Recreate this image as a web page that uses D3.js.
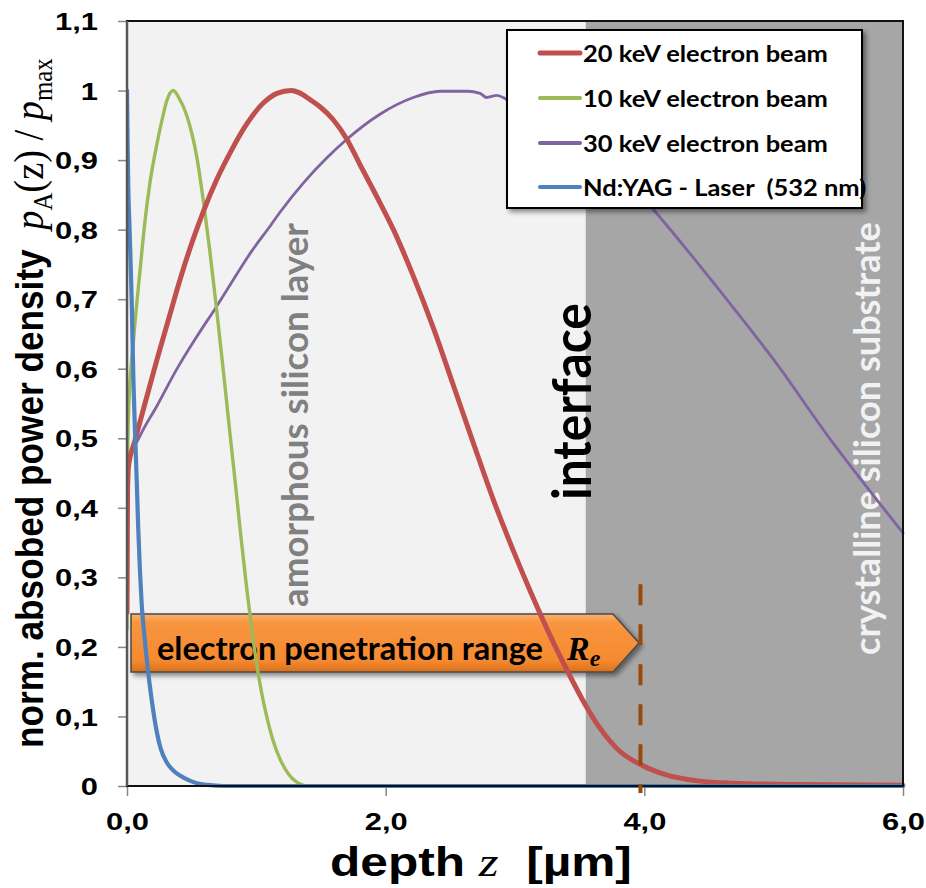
<!DOCTYPE html>
<html><head><meta charset="utf-8">
<script src="https://cdn.jsdelivr.net/npm/d3@7"></script>
<style>body{margin:0;background:#fff} svg{display:block} text{white-space:pre}</style>
</head><body>
<svg id="chart" width="926" height="888"></svg>
<script>
// ---------- data (depth in µm, normalised absorbed power density) ----------
const beam20keV = [[0,0.25],[0.004,0.42],[0.012,0.46],[0.062,0.497],[0.139,0.55],[0.23,0.612],[0.332,0.678],[0.397,0.72],[0.45,0.752],[0.513,0.787],[0.59,0.826],[0.694,0.872],[0.796,0.91],[0.926,0.952],[1.054,0.982],[1.16,0.996],[1.27,1.0],[1.33,0.997],[1.415,0.987],[1.49,0.977],[1.595,0.958],[1.70,0.93],[1.80,0.894],[1.93,0.848],[2.06,0.8],[2.21,0.735],[2.37,0.658],[2.52,0.578],[2.68,0.492],[2.83,0.413],[2.99,0.337],[3.13,0.275],[3.3,0.205],[3.42,0.16],[3.54,0.118],[3.65,0.085],[3.81,0.05],[3.97,0.031],[4.17,0.016],[4.43,0.007],[4.69,0.004],[5.2,0.002],[6,0.001]];
const beam10keV = [[0,0.225],[0.003,0.45],[0.012,0.537],[0.05,0.64],[0.1,0.74],[0.139,0.812],[0.178,0.868],[0.23,0.922],[0.27,0.957],[0.307,0.985],[0.358,1.0],[0.40,0.99],[0.462,0.964],[0.539,0.905],[0.59,0.842],[0.64,0.77],[0.69,0.69],[0.745,0.597],[0.796,0.507],[0.835,0.44],[0.88,0.36],[0.925,0.285],[0.965,0.225],[1.003,0.175],[1.04,0.135],[1.08,0.1],[1.13,0.065],[1.18,0.04],[1.25,0.017],[1.31,0.006],[1.41,0],[6,0]];
const beam30keV = [[0,0.26],[0.004,0.42],[0.01,0.462],[0.1,0.503],[0.23,0.546],[0.384,0.599],[0.539,0.646],[0.694,0.69],[0.822,0.728],[0.96,0.768],[1.11,0.806],[1.183,0.825],[1.363,0.867],[1.544,0.903],[1.70,0.93],[1.956,0.966],[2.214,0.99],[2.42,0.999],[2.63,0.999],[2.73,0.996],[2.78,0.99],[2.86,0.993],[2.94,0.987],[3.2,0.972],[3.5,0.935],[3.8,0.886],[4.07,0.829],[4.64,0.699],[5.0,0.613],[5.44,0.498],[6.0,0.364]];
const laser532 = [[0,1.0],[0.004,0.93],[0.01,0.86],[0.02,0.8],[0.036,0.7],[0.05,0.58],[0.062,0.51],[0.075,0.44],[0.087,0.37],[0.1,0.31],[0.114,0.26],[0.13,0.225],[0.16,0.17],[0.19,0.125],[0.23,0.078],[0.26,0.054],[0.31,0.033],[0.36,0.022],[0.41,0.015],[0.48,0.008],[0.54,0.004],[0.62,0.0015],[0.75,0],[6,0]];

const seriesNames  = ["20 keV electron beam","10 keV electron beam","30 keV electron beam","Nd:YAG - Laser  (532 nm)"];
const seriesData   = [beam20keV, beam10keV, beam30keV, laser532];
const seriesColors = ["#C0504D","#9BBB59","#8064A2","#4F81BD"];
const seriesWidths = [5, 3.4, 2.8, 4.2];

const xTicks = [0,2,4,6];
const xTickLabels = ["0,0","2,0","4,0","6,0"];
const yTicks = [0,0.1,0.2,0.3,0.4,0.5,0.6,0.7,0.8,0.9,1.0,1.1];
const yTickLabels = ["0","0,1","0,2","0,3","0,4","0,5","0,6","0,7","0,8","0,9","1","1,1"];

const interfaceDepth = 3.547;   // µm
const rangeRe = 3.97;           // µm, electron penetration range
const rangeMarkerTop = 0.29;

// ---------- layout ----------
const L = 127, R = 903, T = 21, B = 786;
const x = d3.scaleLinear().domain([0,6]).range([L,R]);
const y = d3.scaleLinear().domain([0,1.1]).range([B,T]);
const svg = d3.select("#chart");
const SANS = "'Liberation Sans', Arial, sans-serif";
const CAL = "Lato, 'Open Sans', sans-serif";
const SERIF = "'Liberation Serif', 'Times New Roman', serif";

const defs = svg.append("defs");
const sh = defs.append("filter").attr("id","shadow").attr("x","-10%").attr("y","-10%").attr("width","130%").attr("height","140%");
sh.append("feDropShadow").attr("dx",3).attr("dy",3).attr("stdDeviation",2.5).attr("flood-color","#000").attr("flood-opacity",0.45);
const g1 = defs.append("linearGradient").attr("id","orange").attr("x1",0).attr("y1",0).attr("x2",0).attr("y2",1);
g1.append("stop").attr("offset","0%").attr("stop-color","#fbb26f");
g1.append("stop").attr("offset","15%").attr("stop-color","#f8953f");
g1.append("stop").attr("offset","80%").attr("stop-color","#f68a30");
g1.append("stop").attr("offset","100%").attr("stop-color","#d9701c");
defs.append("clipPath").attr("id","plotclip").append("rect").attr("x",L).attr("y",0).attr("width",R-L+4).attr("height",B+6);

// backgrounds
svg.append("rect").attr("x",x(0)).attr("y",T).attr("width",x(interfaceDepth)-x(0)).attr("height",B-T).attr("fill","#f2f2f2");
svg.append("rect").attr("x",x(interfaceDepth)).attr("y",T).attr("width",x(6)-x(interfaceDepth)).attr("height",B-T).attr("fill","#a6a6a6");

// helper: fit text length along its own direction
function fit(sel, target, sy){
  const w = sel.node().getComputedTextLength();
  sel.attr("transform", `scale(${target/w},${sy||1})`);
}
function rotLabel(bx, by, str, size, fill, len, sy){
  const g = svg.append("g").attr("transform",`translate(${bx},${by}) rotate(-90)`);
  const t = g.append("text").attr("font-family",CAL).attr("font-weight","bold").attr("font-size",size).attr("fill",fill).text(str);
  fit(t, len, sy);
}
rotLabel(308, 607, "amorphous silicon layer", 31, "#808080", 384, 1.15);
rotLabel(591, 500, "interface", 47, "#000", 197, 1.15);
rotLabel(880, 655, "crystalline silicon substrate", 31, "#f2f2f2", 433, 1.15);

// orange arrow
const ax0 = 131, ax1 = 613, axTip = 639, ay0 = 614, ay1 = 672;
svg.append("path")
  .attr("d",`M${ax0},${ay0}H${ax1}L${axTip},${(ay0+ay1)/2}L${ax1},${ay1}H${ax0}Z`)
  .attr("fill","url(#orange)").attr("stroke","#4a4a4a").attr("stroke-width",1.5).attr("filter","url(#shadow)");
const at = svg.append("g").attr("transform","translate(157,660)").append("text")
  .attr("font-family",CAL).attr("font-weight","bold").attr("font-size",32).attr("fill","#000").text("electron penetration range");
fit(at, 386, 1);
const re = svg.append("text").attr("x",567).attr("y",660).attr("font-family",SERIF).attr("font-weight","bold").attr("font-style","italic").attr("font-size",34);
re.append("tspan").text("R");
re.append("tspan").attr("font-size",24).attr("dy",6).text("e");

// axes
const yAxis = svg.append("g").attr("transform",`translate(${L},0)`)
  .call(d3.axisLeft(y).tickValues(yTicks).tickFormat((d,i)=>yTickLabels[i]).tickSize(9));
const xAxis = svg.append("g").attr("transform",`translate(0,${B})`)
  .call(d3.axisBottom(x).tickValues(xTicks).tickFormat((d,i)=>xTickLabels[i]).tickSize(10));
[yAxis,xAxis].forEach(a=>{
  a.select(".domain").remove();
  a.selectAll(".tick line").attr("stroke","#868686").attr("stroke-width",1.5);
  a.selectAll(".tick text").attr("font-family",SANS).attr("font-weight","bold").attr("font-size",24.5).attr("fill","#000");
});
const SX = 1.26;
yAxis.selectAll(".tick text").attr("x",-29/SX).attr("dy","0.35em").attr("transform",`scale(${SX},1)`);
xAxis.selectAll(".tick text").attr("y",44).attr("dy",0).attr("transform",`scale(${SX},1)`);

// curves
const line = d3.line().x(d=>x(d[0])).y(d=>y(d[1])).curve(d3.curveMonotoneX);
const curves = svg.append("g").attr("clip-path","url(#plotclip)");
[2,1,0,3].forEach(i=>{
  curves.append("path").datum(seriesData[i]).attr("d",line)
    .attr("fill","none").attr("stroke",seriesColors[i]).attr("stroke-width",seriesWidths[i])
    .attr("stroke-linejoin","round").attr("stroke-linecap","round");
});

// plot frame
svg.append("rect").attr("x",L).attr("y",T).attr("width",R-L).attr("height",B-T)
  .attr("fill","none").attr("stroke","#111").attr("stroke-width",2);
svg.append("line").attr("x1",L).attr("x2",L).attr("y1",T).attr("y2",B).attr("stroke","#595959").attr("stroke-width",2.5);

// penetration range marker
svg.append("line").attr("x1",x(rangeRe)).attr("x2",x(rangeRe)).attr("y1",y(rangeMarkerTop)).attr("y2",B+7)
  .attr("stroke","#984807").attr("stroke-width",4).attr("stroke-dasharray","21,19");

// legend
const lg = svg.append("g");
lg.append("rect").attr("x",507).attr("y",30).attr("width",355).attr("height",178)
  .attr("fill","#fff").attr("stroke","#000").attr("stroke-width",2).attr("filter","url(#shadow)");
const rowY = [53, 98, 143, 187];
let legScale = null;
seriesNames.forEach((n,i)=>{
  lg.append("line").attr("x1",540).attr("x2",580).attr("y1",rowY[i]).attr("y2",rowY[i])
    .attr("stroke",seriesColors[i]).attr("stroke-width",i===0?5:4).attr("stroke-linecap","round");
  const t = lg.append("g").attr("transform",`translate(583,${rowY[i]+8.5})`).append("text")
    .attr("font-family",CAL).attr("font-weight","bold").attr("font-size",23).attr("fill","#000").text(n);
  if(legScale===null) legScale = 245/t.node().getComputedTextLength();
  t.attr("transform",`scale(${legScale},1)`);
});

// axis titles
const xt = svg.append("g").attr("transform","translate(330,876)").append("text").attr("fill","#000");
xt.append("tspan").attr("font-family",SANS).attr("font-weight","bold").attr("font-size",41).text("depth ");
xt.append("tspan").attr("font-family",SERIF).attr("font-style","italic").attr("font-size",42).text("z");
xt.append("tspan").attr("font-family",SANS).attr("font-weight","bold").attr("font-size",41).text("  [µm]");
fit(xt, 302, 1);

const yt = svg.append("g").attr("transform","translate(43,748) rotate(-90)").append("text").attr("fill","#000");
yt.append("tspan").attr("font-family",SANS).attr("font-weight","bold").attr("font-size",34).text("norm. absobed power density  ");
yt.append("tspan").attr("font-family",SERIF).attr("font-style","italic").attr("font-size",37).text("p");
yt.append("tspan").attr("font-family",SERIF).attr("font-size",24).attr("dy",8).text("A");
yt.append("tspan").attr("font-family",SERIF).attr("font-size",37).attr("dy",-8).text("(z) / ");
yt.append("tspan").attr("font-family",SERIF).attr("font-style","italic").attr("font-size",37).text("p");
yt.append("tspan").attr("font-family",SERIF).attr("font-size",24).attr("dy",8).text("max");
fit(yt, 690, 1.15);
</script>
</body></html>
